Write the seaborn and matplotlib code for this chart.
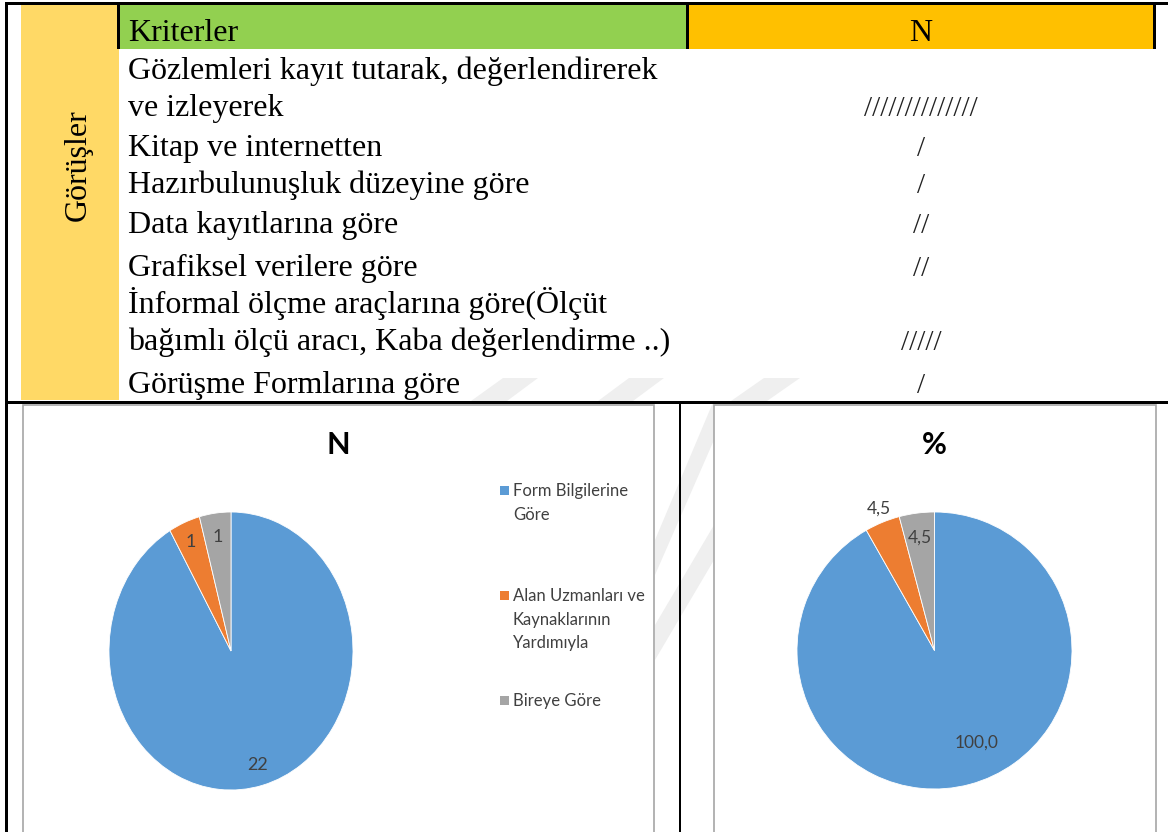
import matplotlib
matplotlib.use("Agg")
import matplotlib.pyplot as plt
from matplotlib.patches import Rectangle, Polygon
import numpy as np
import seaborn as sns

sns.set_style("white")
plt.rcParams['font.family'] = ['Liberation Serif', 'DejaVu Serif']

# table data
header = ["Kriterler", "N"]
side_label = "Görüşler"
criteria = [
    "Gözlemleri kayıt tutarak, değerlendirerek\nve izleyerek",
    "Kitap ve internetten",
    "Hazırbulunuşluk düzeyine göre",
    "Data kayıtlarına göre",
    "Grafiksel verilere göre",
    "İnformal ölçme araçlarına göre(Ölçüt\nbağımlı ölçü aracı, Kaba değerlendirme ..)",
    "Görüşme Formlarına göre",
]
tally = [14, 1, 1, 2, 2, 5, 1]

# pie data
pie_labels = ["Form Bilgilerine\nGöre", "Alan Uzmanları ve\nKaynaklarının\nYardımıyla", "Bireye Göre"]
pie_n = [22, 1, 1]
pie_pct = [100.0, 4.5, 4.5]
pie_colors = ["#5B9BD5", "#ED7D31", "#A5A5A5"]

W, H = 1168, 832
fig = plt.figure(figsize=(W / 100, H / 100), dpi=100)
bg = fig.add_axes([0, 0, 1, 1])
bg.set_xlim(0, W)
bg.set_ylim(H, 0)
bg.axis('off')

def box(x, y, w, h, color, z=1):
    bg.add_patch(Rectangle((x, y), w, h, facecolor=color, edgecolor='none', zorder=z))

# faint watermark stripes behind everything
for pts in [[(471, 401), (507, 401), (538, 378), (503, 378)],
            [(598, 401), (633, 401), (664, 378), (629, 378)],
            [(731, 401), (767, 401), (800, 378), (764, 378)],
            [(655, 575), (655, 540), (714, 400), (714, 440)],
            [(655, 660), (655, 625), (714, 525), (714, 560)]]:
    bg.add_patch(Polygon(pts, closed=True, facecolor='#EFEFEF', edgecolor='none', zorder=0.5))

# table fills
box(21, 4, 98, 396, '#FFD966')
box(119, 4, 568, 45, '#92D050')
box(688, 4, 466, 45, '#FFC000')
# black rules
box(5, 2, W - 5, 3, 'black', 3)
box(5, 2, 2.5, H, 'black', 3)
box(117, 2, 3, 47, 'black', 3)
box(686, 2, 3, 47, 'black', 3)
box(1153, 2, 3, 47, 'black', 3)
box(5, 400.5, W - 5, 3, 'black', 3)
box(679, 402, 2, H - 402, 'black', 3)

serif = dict(family=['Liberation Serif', 'DejaVu Serif'], fontsize=23, color='black')
bg.text(128, 41, header[0], va='baseline', ha='left', **serif)
bg.text(921, 41, header[1], va='baseline', ha='center', **serif)
bg.text(86, 165, side_label, rotation=90, va='baseline', ha='center',
        rotation_mode='anchor', **serif)

first_base = [79, 156, 193, 233, 276, 313, 393]
line_gap = 37
for crit, n, b in zip(criteria, tally, first_base):
    lines = crit.split("\n")
    for k, line in enumerate(lines):
        bg.text(128, b + k * line_gap, line, va='baseline', ha='left', **serif)
    bg.text(921, b + (len(lines) - 1) * line_gap, "/" * n, va='baseline', ha='center',
            family=['Liberation Serif'], fontsize=21, color='#222222')

# chart frames
for x0, x1 in [(23, 654), (714, 1156)]:
    bg.add_patch(Rectangle((x0, 405), x1 - x0, 440, facecolor='white',
                           edgecolor='#A6A6A6', lw=1.2, zorder=2))

sans = ['Lato', 'DejaVu Sans']
bg.text(338, 454, "N", ha='center', va='baseline', family=sans,
        fontweight='bold', fontsize=22, color='black', zorder=4)
bg.text(934, 454, "%", ha='center', va='baseline', family=sans,
        fontweight='bold', fontsize=22, color='black', zorder=4)

# legend of the N chart
leg_base = [496, 601, 706]
for lab, col, b in zip(pie_labels, pie_colors, leg_base):
    box(500, b - 10, 8.5, 8.5, col, 4)
    for k, line in enumerate(lab.split("\n")):
        bg.text(513, b + k * 23.5, line, ha='left', va='baseline', family=sans,
                fontsize=12, color='#404040', zorder=4)


def draw_pie(bbox, values, fmt, radii, offsets, size):
    x0, y0, x1, y1 = bbox
    pax = fig.add_axes([x0 / W, 1 - y1 / H, (x1 - x0) / W, (y1 - y0) / H])
    wedges, _ = pax.pie(values, colors=pie_colors, startangle=90, counterclock=False,
                        wedgeprops=dict(edgecolor='white', linewidth=0.6))
    pax.set_aspect('auto')
    pax.set_xlim(-1, 1)
    pax.set_ylim(-1, 1)
    pax.axis('off')
    for w, v, r, off in zip(wedges, values, radii, offsets):
        w.set_clip_on(False)
        ang = np.deg2rad((w.theta1 + w.theta2) / 2 + off)
        pax.text(r * np.cos(ang), r * np.sin(ang), fmt(v), ha='center',
                 va='center_baseline', family=sans, fontsize=size, color='#404040',
                 clip_on=False)
    return pax


draw_pie((109, 512, 353, 790), pie_n, lambda v: f"{v:d}",
         [0.84, 0.86, 0.84], [0, 0, 0], 13)
draw_pie((797, 512, 1072, 789), pie_pct, lambda v: f"{v:.1f}".replace('.', ','),
         [0.72, 1.11, 0.83], [10, -1, 0], 12.5)

fig.savefig("out.png", dpi=100)
